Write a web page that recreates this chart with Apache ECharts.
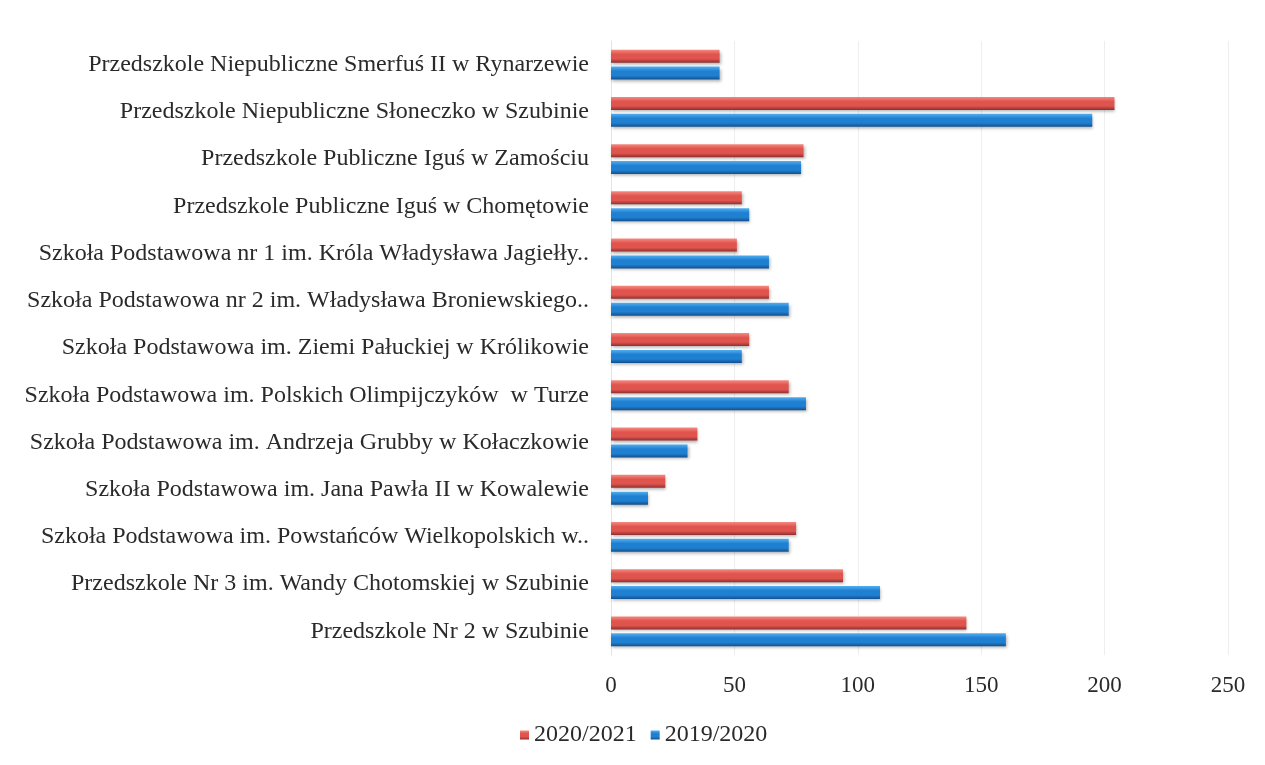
<!DOCTYPE html>
<html>
<head>
<meta charset="utf-8">
<script src="https://cdn.jsdelivr.net/npm/echarts@6/dist/echarts.min.js"></script>
<style>
  html, body { margin: 0; padding: 0; background: #fff; }
  #chart { width: 1265px; height: 765px; }
</style>
</head>
<body>
<div id="chart"></div>
<script>
// kategorie od góry do dołu
var categories = [
  'Przedszkole Niepubliczne Smerfuś II w Rynarzewie',
  'Przedszkole Niepubliczne Słoneczko w Szubinie',
  'Przedszkole Publiczne Iguś w Zamościu',
  'Przedszkole Publiczne Iguś w Chomętowie',
  'Szkoła Podstawowa nr 1 im. Króla Władysława Jagiełły..',
  'Szkoła Podstawowa nr 2 im. Władysława Broniewskiego..',
  'Szkoła Podstawowa im. Ziemi Pałuckiej w Królikowie',
  'Szkoła Podstawowa im. Polskich Olimpijczyków  w Turze',
  'Szkoła Podstawowa im. Andrzeja Grubby w Kołaczkowie',
  'Szkoła Podstawowa im. Jana Pawła II w Kowalewie',
  'Szkoła Podstawowa im. Powstańców Wielkopolskich w..',
  'Przedszkole Nr 3 im. Wandy Chotomskiej w Szubinie',
  'Przedszkole Nr 2 w Szubinie'
];
var seriesNames = ['2020/2021', '2019/2020'];
var values2021 = [44, 204, 78, 53, 51, 64, 56, 72, 35, 22, 75, 94, 144];
var values2020 = [44, 195, 77, 56, 64, 72, 53, 79, 31, 15, 72, 109, 160];
var xTicks = [0, 50, 100, 150, 200, 250];

var chart = echarts.init(document.getElementById('chart'));

function tube(c1, c2, c3) {
  return new echarts.graphic.LinearGradient(0, 0, 0, 1, [
    {offset: 0, color: c1},
    {offset: 0.35, color: c2},
    {offset: 0.7, color: c2},
    {offset: 1, color: c3}
  ]);
}
var redFill = tube('#f58a80', '#e0544e', '#8f2f30');
var blueFill = tube('#52aef0', '#1f80d2', '#134f8c');

var font = '"Liberation Serif", "Times New Roman", serif';

chart.setOption({
  animation: false,
  textStyle: { fontFamily: font },
  grid: { left: 611, right: 37, top: 41, bottom: 110 },
  legend: {
    data: seriesNames,
    bottom: 13,
    left: 515,
    icon: 'rect',
    itemWidth: 9,
    itemHeight: 9,
    itemGap: 14,
    textStyle: { fontFamily: font, fontSize: 24, color: '#2a2a2a', padding: [0, 0, 0, 0] }
  },
  xAxis: {
    type: 'value',
    min: xTicks[0],
    max: xTicks[xTicks.length - 1],
    interval: 50,
    axisLine: { show: false },
    axisTick: { show: false },
    splitLine: { show: true, lineStyle: { color: '#eeeeee', width: 1 } },
    axisLabel: { fontFamily: font, fontSize: 23, color: '#2a2a2a', margin: 19 }
  },
  yAxis: {
    type: 'category',
    inverse: true,
    data: categories,
    axisLine: { show: true, lineStyle: { color: '#e4e4e4' } },
    axisTick: { show: false },
    axisLabel: { fontFamily: font, fontSize: 24, color: '#2a2a2a', margin: 22 }
  },
  series: [
    {
      name: seriesNames[0],
      type: 'bar',
      data: values2021,
      barWidth: 13,
      barGap: '30%',
      itemStyle: {
        color: redFill,
        shadowColor: 'rgba(0,0,0,0.3)',
        shadowBlur: 3,
        shadowOffsetY: 2,
        shadowOffsetX: 1
      }
    },
    {
      name: seriesNames[1],
      type: 'bar',
      data: values2020,
      barWidth: 13,
      itemStyle: {
        color: blueFill,
        shadowColor: 'rgba(0,0,0,0.3)',
        shadowBlur: 3,
        shadowOffsetY: 2,
        shadowOffsetX: 1
      }
    }
  ]
});
</script>
</body>
</html>
